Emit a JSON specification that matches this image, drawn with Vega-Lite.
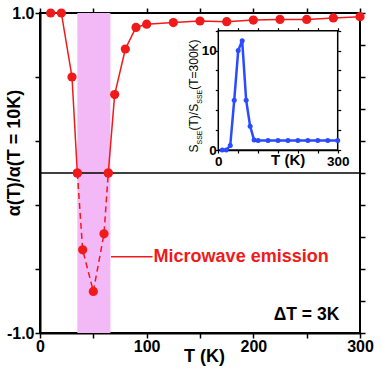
{
  "$schema": "https://vega.github.io/schema/vega-lite/v6.json",
  "width": 320,
  "height": 320,
  "autosize": {"type": "none"},
  "padding": {"left": 40, "top": 13, "right": 22, "bottom": 36},
  "background": "white",
  "config": {
    "view": {"stroke": "black", "strokeWidth": 2},
    "font": "Liberation Sans",
    "axis": {
      "grid": false,
      "domainColor": "black",
      "tickColor": "black",
      "labelColor": "black",
      "titleColor": "black",
      "labelFont": "Liberation Sans",
      "titleFont": "Liberation Sans",
      "labelFontWeight": "bold",
      "titleFontWeight": "bold",
      "labelFlush": false,
      "labelOverlap": false,
      "zindex": 1
    }
  },
  "datasets": {
    "main": [
      {"T": 10, "a": 1.0, "seg": "a"},
      {"T": 20, "a": 1.0, "seg": "a"},
      {"T": 30, "a": 0.60, "seg": "a"},
      {"T": 35, "a": 0.0, "seg": "a"},
      {"T": 35, "a": 0.0, "seg": "b"},
      {"T": 40, "a": -0.48, "seg": "b"},
      {"T": 50, "a": -0.74, "seg": "b"},
      {"T": 60, "a": -0.38, "seg": "b"},
      {"T": 64, "a": 0.0, "seg": "b"},
      {"T": 64, "a": 0.0, "seg": "c"},
      {"T": 70, "a": 0.49, "seg": "c"},
      {"T": 80, "a": 0.775, "seg": "c"},
      {"T": 90, "a": 0.91, "seg": "c"},
      {"T": 100, "a": 0.93, "seg": "c"},
      {"T": 125, "a": 0.94, "seg": "c"},
      {"T": 150, "a": 0.95, "seg": "c"},
      {"T": 175, "a": 0.946, "seg": "c"},
      {"T": 200, "a": 0.956, "seg": "c"},
      {"T": 225, "a": 0.96, "seg": "c"},
      {"T": 250, "a": 0.96, "seg": "c"},
      {"T": 275, "a": 0.969, "seg": "c"},
      {"T": 300, "a": 0.977, "seg": "c"}
    ],
    "inset": [
      {"T": 10, "s": 0.0},
      {"T": 20, "s": 0.0},
      {"T": 30, "s": 0.45},
      {"T": 40, "s": 5.0},
      {"T": 50, "s": 10.0},
      {"T": 60, "s": 11.0},
      {"T": 70, "s": 5.0},
      {"T": 80, "s": 2.4},
      {"T": 90, "s": 1.0},
      {"T": 100, "s": 0.95},
      {"T": 125, "s": 0.95},
      {"T": 150, "s": 0.95},
      {"T": 175, "s": 0.95},
      {"T": 200, "s": 0.95},
      {"T": 225, "s": 0.95},
      {"T": 250, "s": 0.95},
      {"T": 275, "s": 0.95},
      {"T": 300, "s": 0.95}
    ]
  },
  "resolve": {
    "scale": {"x": "independent", "y": "independent"},
    "axis": {"x": "independent", "y": "independent"}
  },
  "layer": [
    {
      "layer": [
        {
          "data": {"values": [{"t0": 35, "t1": 66, "lo": -1, "hi": 1}]},
          "mark": {"type": "rect", "color": "#f3b8f6"},
          "encoding": {
            "x": {
              "field": "t0", "type": "quantitative",
              "scale": {"domain": [0, 300], "nice": false},
              "axis": {
                "orient": "bottom",
                "values": [0, 50, 100, 150, 200, 250, 300],
                "labelExpr": "datum.value % 100 == 0 ? datum.label : ''",
                "tickSize": 5, "tickWidth": 1.5, "domainWidth": 2,
                "labelPadding": 0, "labelFontSize": 16,
                "encode": {"ticks": {"update": {"y2": {"value": -5}}}},
                "title": "T (K)", "titleFontSize": 18,
                "titleX": 164, "titleY": 28,
                "titleAlign": "center", "titleBaseline": "alphabetic"
              }
            },
            "x2": {"field": "t1"},
            "y": {
              "field": "lo", "type": "quantitative",
              "scale": {"domain": [-1, 1], "nice": false},
              "axis": {
                "orient": "left",
                "values": [-1, -0.8, -0.6, -0.4, -0.2, 0, 0.2, 0.4, 0.6, 0.8, 1],
                "labelExpr": "datum.value == 0 ? '0' : (datum.value == 1 ? '1.0' : (datum.value == -1 ? '-1.0' : ''))",
                "tickSize": 5, "tickWidth": 1.5, "domainWidth": 2,
                "labelPadding": 1, "labelFontSize": 16,
                "encode": {"ticks": {"update": {"x2": {"value": 5}}}},
                "title": "α(T)/α(T = 10K)", "titleFontSize": 18,
                "titleAngle": 270, "titleX": -26, "titleY": 139.5,
                "titleAlign": "center", "titleBaseline": "middle"
              }
            },
            "y2": {"field": "hi"}
          }
        },
        {
          "data": {"values": [{"z": 0}]},
          "mark": {"type": "rule", "color": "black", "strokeWidth": 1.5},
          "encoding": {"y": {"field": "z", "type": "quantitative"}}
        },
        {
          "data": {"name": "main"},
          "transform": [{"filter": "datum.seg != 'b'"}],
          "mark": {"type": "line", "color": "#f01a1a", "strokeWidth": 1.5},
          "encoding": {
            "x": {"field": "T", "type": "quantitative"},
            "y": {"field": "a", "type": "quantitative"},
            "detail": {"field": "seg"}
          }
        },
        {
          "data": {"name": "main"},
          "transform": [{"filter": "datum.seg == 'b'"}],
          "mark": {"type": "line", "color": "#f01a1a", "strokeWidth": 1.5, "strokeDash": [6, 4]},
          "encoding": {
            "x": {"field": "T", "type": "quantitative"},
            "y": {"field": "a", "type": "quantitative"}
          }
        },
        {
          "data": {"name": "main"},
          "mark": {"type": "point", "filled": true, "color": "#f01a1a", "size": 85, "opacity": 1},
          "encoding": {
            "x": {"field": "T", "type": "quantitative"},
            "y": {"field": "a", "type": "quantitative"}
          }
        },
        {
          "data": {"values": [{"t0": 66.6, "t1": 105.5, "y": -0.523}]},
          "mark": {"type": "rule", "color": "#f01a1a", "strokeWidth": 1.5},
          "encoding": {
            "x": {"field": "t0", "type": "quantitative"},
            "x2": {"field": "t1"},
            "y": {"field": "y", "type": "quantitative"}
          }
        },
        {
          "data": {"values": [{"t": 106.5, "y": -0.523, "label": "Microwave emission"}]},
          "mark": {"type": "text", "color": "#f01a1a", "fontSize": 18, "fontWeight": "bold", "align": "left", "baseline": "middle", "font": "Liberation Sans"},
          "encoding": {
            "x": {"field": "t", "type": "quantitative"},
            "y": {"field": "y", "type": "quantitative"},
            "text": {"field": "label"}
          }
        },
        {
          "data": {"values": [{"t": 280.6, "y": -0.919, "label": "ΔT = 3K"}]},
          "mark": {"type": "text", "color": "black", "fontSize": 17.5, "fontWeight": "bold", "align": "right", "baseline": "alphabetic", "font": "Liberation Sans"},
          "encoding": {
            "x": {"field": "t", "type": "quantitative"},
            "y": {"field": "y", "type": "quantitative"},
            "text": {"field": "label"}
          }
        }
      ]
    },
    {
      "data": {"values": [{"t": 0, "v": 0}]},
      "mark": {"type": "point", "opacity": 0},
      "encoding": {
        "x": {
          "field": "t", "type": "quantitative",
          "scale": {"domain": [0, 300], "nice": false},
          "axis": {"orient": "top", "labels": false, "domain": false, "values": [0, 50, 100, 150, 200, 250, 300], "tickSize": 5, "tickWidth": 1.5, "title": null,
            "encode": {"ticks": {"update": {"y2": {"value": 5}}}}}
        },
        "y": {
          "field": "v", "type": "quantitative",
          "scale": {"domain": [-1, 1], "nice": false},
          "axis": {"orient": "right", "labels": false, "domain": false, "values": [-1, -0.8, -0.6, -0.4, -0.2, 0, 0.2, 0.4, 0.6, 0.8, 1], "tickSize": 5, "tickWidth": 1.5, "title": null,
            "encode": {"ticks": {"update": {"x2": {"value": -5}}}}}
        }
      }
    },
    {
      "layer": [
        {
          "data": {"values": [{"x0": 0, "x1": 300, "y0": 0, "y1": 12}]},
          "mark": {"type": "rect", "fill": "white", "stroke": "black", "strokeWidth": 1.5},
          "encoding": {
            "x": {
              "field": "x0", "type": "quantitative",
              "scale": {"domain": [0, 300], "range": [178.3, 297.7], "nice": false},
              "axis": {
                "orient": "bottom", "offset": -183,
                "values": [0, 50, 100, 150, 200, 250, 300],
                "labelExpr": "datum.value == 0 || datum.value == 300 ? datum.label : ''",
                "tickSize": 3, "tickWidth": 1.2, "domainWidth": 1.5,
                "labelPadding": 1, "labelFontSize": 13.5,
                "encode": {"ticks": {"update": {"y2": {"value": -3}}}},
                "title": "T (K)", "titleFontSize": 15,
                "titleX": 247.7, "titleY": 14,
                "titleAlign": "center", "titleBaseline": "alphabetic"
              }
            },
            "x2": {"field": "x1"},
            "y": {
              "field": "y0", "type": "quantitative",
              "scale": {"domain": [0, 12], "range": [137, 17.7], "nice": false},
              "axis": {
                "orient": "left", "offset": -178.3,
                "values": [0, 2, 4, 6, 8, 10, 12],
                "labelExpr": "datum.value == 0 || datum.value == 10 ? datum.label : ''",
                "tickSize": 3, "tickWidth": 1.2, "domainWidth": 1.5,
                "labelPadding": -1, "labelFontSize": 13.5,
                "encode": {"ticks": {"update": {"x2": {"value": 3}}}},
                "title": null
              }
            },
            "y2": {"field": "y1"}
          }
        },
        {
          "data": {"name": "inset"},
          "mark": {"type": "line", "color": "#2a4bff", "strokeWidth": 2.5},
          "encoding": {
            "x": {"field": "T", "type": "quantitative"},
            "y": {"field": "s", "type": "quantitative"}
          }
        },
        {
          "data": {"name": "inset"},
          "mark": {"type": "point", "filled": true, "color": "#2a4bff", "size": 25, "opacity": 1},
          "encoding": {
            "x": {"field": "T", "type": "quantitative"},
            "y": {"field": "s", "type": "quantitative"}
          }
        },
        {
          "data": {"values": [
            {"t": -50, "v": -0.25, "s": "S"},
            {"t": -50, "v": 1.96, "s": "(T)/S"},
            {"t": -50, "v": 6.06, "s": "(T=300K)"}
          ]},
          "mark": {"type": "text", "angle": 270, "align": "left", "baseline": "alphabetic", "fontSize": 12, "color": "black", "font": "Liberation Sans"},
          "encoding": {
            "x": {"field": "t", "type": "quantitative"},
            "y": {"field": "v", "type": "quantitative"},
            "text": {"field": "s"}
          }
        },
        {
          "data": {"values": [
            {"t": -42, "v": 0.55, "s": "SSE"},
            {"t": -42, "v": 4.65, "s": "SSE"}
          ]},
          "mark": {"type": "text", "angle": 270, "align": "left", "baseline": "alphabetic", "fontSize": 7, "color": "black", "font": "Liberation Sans"},
          "encoding": {
            "x": {"field": "t", "type": "quantitative"},
            "y": {"field": "v", "type": "quantitative"},
            "text": {"field": "s"}
          }
        }
      ]
    },
    {
      "data": {"values": [{"t": 0, "v": 0}]},
      "mark": {"type": "point", "opacity": 0},
      "encoding": {
        "x": {
          "field": "t", "type": "quantitative",
          "scale": {"domain": [0, 300], "range": [178.3, 297.7], "nice": false},
          "axis": {"orient": "top", "offset": -17.7, "labels": false, "domain": false, "values": [0, 50, 100, 150, 200, 250, 300], "tickSize": 3, "tickWidth": 1.2, "title": null,
            "encode": {"ticks": {"update": {"y2": {"value": 3}}}}}
        },
        "y": {
          "field": "v", "type": "quantitative",
          "scale": {"domain": [0, 12], "range": [137, 17.7], "nice": false},
          "axis": {"orient": "right", "offset": -22.3, "labels": false, "domain": false, "values": [0, 2, 4, 6, 8, 10, 12], "tickSize": 3, "tickWidth": 1.2, "title": null,
            "encode": {"ticks": {"update": {"x2": {"value": -3}}}}}
        }
      }
    }
  ]
}
